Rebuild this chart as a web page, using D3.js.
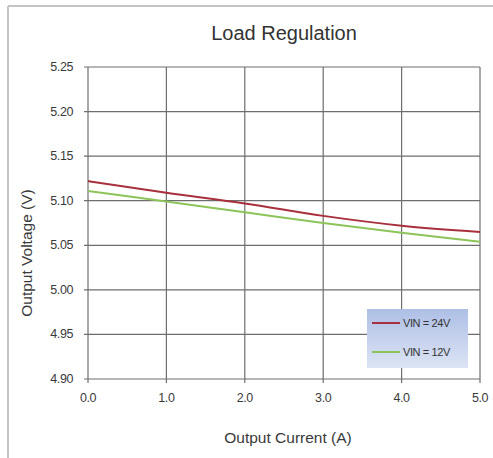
<!DOCTYPE html>
<html>
<head>
<meta charset="utf-8">
<script src="https://cdn.jsdelivr.net/npm/d3@7"></script>
<style>
  body { margin: 0; background: #fff; }
  svg { display: block; font-family: 'Liberation Sans', Arial, sans-serif; }
</style>
</head>
<body>
<svg id="chart" width="493" height="458"></svg>
<script>
// data
const currents = [0, 1, 2, 3, 4, 5];
const vin24 = [5.122, 5.109, 5.097, 5.083, 5.072, 5.065];
const vin12 = [5.111, 5.099, 5.087, 5.075, 5.064, 5.054];
const xTicks = [0, 1, 2, 3, 4, 5];
const yTicks = [4.90, 4.95, 5.00, 5.05, 5.10, 5.15, 5.20, 5.25];
const seriesNames = ['VIN = 24V', 'VIN = 12V'];
const seriesColors = ['#a8303c', '#8cc45a'];

const cfg = {
  left: 88, right: 480, top: 67, bottom: 379,
  gridColor: '#6e6e6e',
  textColor: '#3a3a3a',
};

const svg = d3.select('#chart');

// outer frame (only top and left edges show)
svg.append('line').attr('x1', 8).attr('x2', 493).attr('y1', 6).attr('y2', 6)
  .attr('stroke', '#c4c4c4').attr('stroke-width', 2);
svg.append('line').attr('x1', 8).attr('x2', 8).attr('y1', 6).attr('y2', 458)
  .attr('stroke', '#c4c4c4').attr('stroke-width', 2);

const x = d3.scaleLinear().domain([0, 5]).range([cfg.left, cfg.right]);
const y = d3.scaleLinear().domain([4.90, 5.25]).range([cfg.bottom, cfg.top]);

// title
svg.append('text')
  .attr('x', 284).attr('y', 40)
  .attr('text-anchor', 'middle')
  .style('font-size', '20px')
  .style('fill', '#333')
  .text('Load Regulation');

// grid
const grid = svg.append('g');
grid.selectAll('.hgrid').data(yTicks).enter().append('line')
  .attr('x1', cfg.left - 4).attr('x2', cfg.right)
  .attr('y1', d => y(d)).attr('y2', d => y(d))
  .attr('stroke', cfg.gridColor).attr('stroke-width', 1.2);
grid.selectAll('.vgrid').data(xTicks).enter().append('line')
  .attr('x1', d => x(d)).attr('x2', d => x(d))
  .attr('y1', cfg.top).attr('y2', cfg.bottom + 4)
  .attr('stroke', cfg.gridColor).attr('stroke-width', 1.2);

// y tick labels
svg.selectAll('.ylab').data(yTicks).enter().append('text')
  .attr('x', 73).attr('y', d => y(d) + 4)
  .attr('text-anchor', 'end')
  .style('font-size', '12.5px')
  .style('letter-spacing', '-0.4px')
  .style('fill', cfg.textColor)
  .text(d => d3.format('.2f')(d));

// x tick labels
svg.selectAll('.xlab').data(xTicks).enter().append('text')
  .attr('x', d => x(d)).attr('y', 402)
  .attr('text-anchor', 'middle')
  .style('font-size', '12.5px')
  .style('letter-spacing', '-0.4px')
  .style('fill', cfg.textColor)
  .text(d => d3.format('.1f')(d));

// axis titles
svg.append('text')
  .attr('x', 288).attr('y', 443)
  .attr('text-anchor', 'middle')
  .style('font-size', '15.5px')
  .style('fill', cfg.textColor)
  .text('Output Current (A)');
svg.append('text')
  .attr('transform', 'translate(32,253) rotate(-90)')
  .attr('text-anchor', 'middle')
  .style('font-size', '15.5px')
  .style('fill', cfg.textColor)
  .text('Output Voltage (V)');

// series lines
const line = d3.line()
  .x((d, i) => x(currents[i]))
  .y(d => y(d))
  .curve(d3.curveMonotoneX);
[vin12, vin24].forEach((s, k) => {
  svg.append('path')
    .datum(s)
    .attr('d', line)
    .attr('fill', 'none')
    .attr('stroke', k === 0 ? seriesColors[1] : seriesColors[0])
    .attr('stroke-width', 2);
});

// legend
const defs = svg.append('defs');
const grad = defs.append('linearGradient').attr('id', 'lg')
  .attr('x1', 0).attr('x2', 0).attr('y1', 0).attr('y2', 1);
grad.append('stop').attr('offset', '0%').attr('stop-color', '#aebfe6');
grad.append('stop').attr('offset', '100%').attr('stop-color', '#dce4f4');

const legend = svg.append('g').attr('transform', 'translate(367,309)');
legend.append('rect')
  .attr('width', 101).attr('height', 59)
  .attr('fill', 'url(#lg)');
seriesNames.forEach((name, i) => {
  const ly = 14 + i * 29;
  legend.append('line')
    .attr('x1', 5).attr('x2', 33).attr('y1', ly).attr('y2', ly)
    .attr('stroke', seriesColors[i]).attr('stroke-width', 2);
  legend.append('text')
    .attr('x', 36).attr('y', ly + 4)
    .style('font-size', '11px')
    .style('letter-spacing', '-0.4px')
    .style('fill', '#333')
    .text(name);
});
</script>
</body>
</html>
